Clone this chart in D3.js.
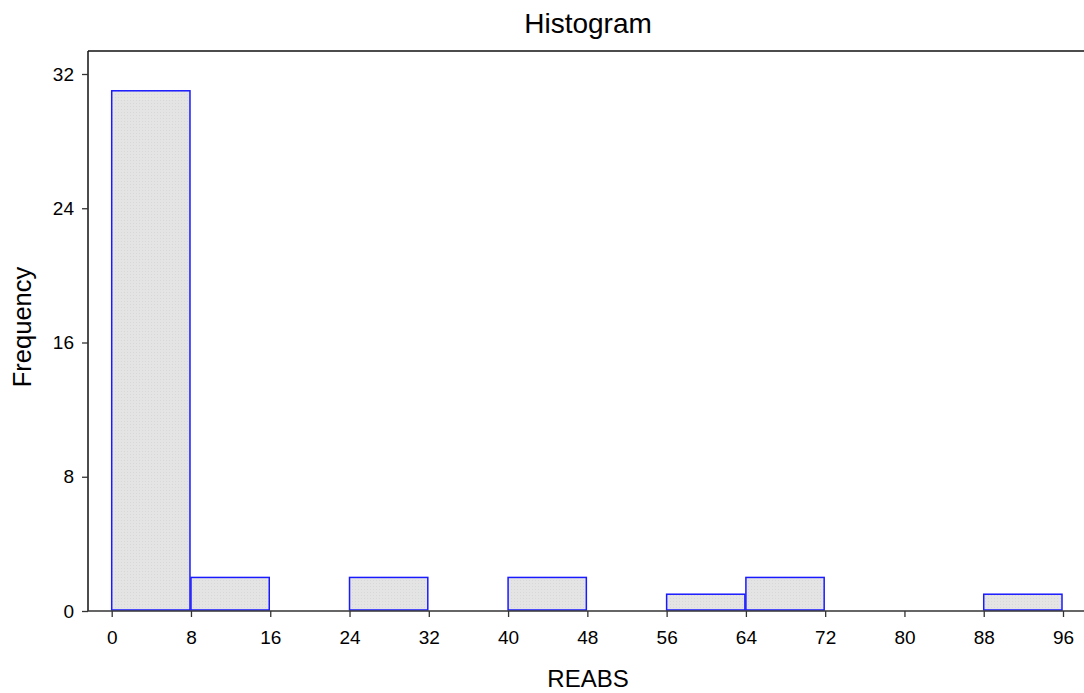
<!DOCTYPE html>
<html>
<head>
<meta charset="utf-8">
<script src="https://cdn.jsdelivr.net/npm/d3@7"></script>
<style>
  body { margin: 0; background: #fff; }
  text { font-family: "Liberation Sans", Arial, sans-serif; fill: #000; }
</style>
</head>
<body>
<div id="chart"></div>
<script>
// histogram bins of REABS
const binStarts = [0, 8, 16, 24, 32, 40, 48, 56, 64, 72, 80, 88];
const binWidth = 8;
const counts = [31, 2, 0, 2, 0, 2, 0, 1, 2, 0, 0, 1];
const xTicks = [0, 8, 16, 24, 32, 40, 48, 56, 64, 72, 80, 88, 96];
const yTicks = [0, 8, 16, 24, 32];

const width = 1084;
const height = 693;

const svg = d3.select("#chart")
    .append("svg")
    .attr("width", width)
    .attr("height", height);

const frameLeft = 88, frameTop = 51, baseY = 611;

const x = d3.scaleLinear().domain([0, 96]).range([111.7, 1063]);
const y = d3.scaleLinear().domain([0, 32]).range([baseY, 74]);

// subtle texture on bars
const defs = svg.append("defs");
const pat = defs.append("pattern")
    .attr("id", "tex")
    .attr("width", 3).attr("height", 3)
    .attr("patternUnits", "userSpaceOnUse");
pat.append("rect").attr("width", 3).attr("height", 3).attr("fill", "#e4e4e4");
pat.append("rect").attr("x", 1).attr("y", 1).attr("width", 1).attr("height", 1).attr("fill", "#d8d8d8");

// bars
svg.selectAll("rect.bar")
    .data(binStarts.map((s, i) => ({ s: s, c: counts[i] })).filter(d => d.c > 0))
    .enter().append("rect")
    .attr("class", "bar")
    .attr("x", d => x(d.s))
    .attr("y", d => y(d.c))
    .attr("width", d => x(d.s + binWidth) - x(d.s) - 1)
    .attr("height", d => y(0) - y(d.c) - 1)
    .attr("fill", "url(#tex)")
    .attr("stroke", "#1a1aff")
    .attr("stroke-width", 1.5);

// frame: left and top
svg.append("line")
    .attr("x1", frameLeft).attr("x2", frameLeft)
    .attr("y1", frameTop).attr("y2", baseY)
    .attr("stroke", "#111").attr("stroke-width", 1.5);
svg.append("line")
    .attr("x1", frameLeft).attr("x2", width)
    .attr("y1", frameTop).attr("y2", frameTop)
    .attr("stroke", "#111").attr("stroke-width", 1.5);

// x axis
const xAxis = svg.append("g")
    .attr("transform", `translate(0,${baseY})`)
    .call(d3.axisBottom(x).tickValues(xTicks).tickSize(6).tickPadding(14).tickFormat(d3.format("d")));
xAxis.select(".domain").remove();
xAxis.selectAll(".tick line").attr("stroke", "#333").attr("stroke-width", 1.3);
xAxis.selectAll(".tick text").style("font-size", "19px").style("font-family", "Liberation Sans, Arial, sans-serif");
svg.append("line")
    .attr("x1", frameLeft).attr("x2", width)
    .attr("y1", baseY).attr("y2", baseY)
    .attr("stroke", "#333").attr("stroke-width", 1.5);

// y axis
const yAxis = svg.append("g")
    .attr("transform", `translate(${frameLeft},0)`)
    .call(d3.axisLeft(y).tickValues(yTicks).tickSize(6).tickPadding(8).tickFormat(d3.format("d")));
yAxis.select(".domain").remove();
yAxis.selectAll(".tick line").attr("stroke", "#333").attr("stroke-width", 1.3);
yAxis.selectAll(".tick text").style("font-size", "19px").style("font-family", "Liberation Sans, Arial, sans-serif");

// titles
svg.append("text")
    .attr("x", 588).attr("y", 33)
    .attr("text-anchor", "middle")
    .style("font-size", "28px")
    .text("Histogram");

svg.append("text")
    .attr("x", 588).attr("y", 687)
    .attr("text-anchor", "middle")
    .style("font-size", "24px")
    .text("REABS");

svg.append("text")
    .attr("transform", "translate(31,327) rotate(-90)")
    .attr("text-anchor", "middle")
    .style("font-size", "25.5px")
    .text("Frequency");
</script>
</body>
</html>
